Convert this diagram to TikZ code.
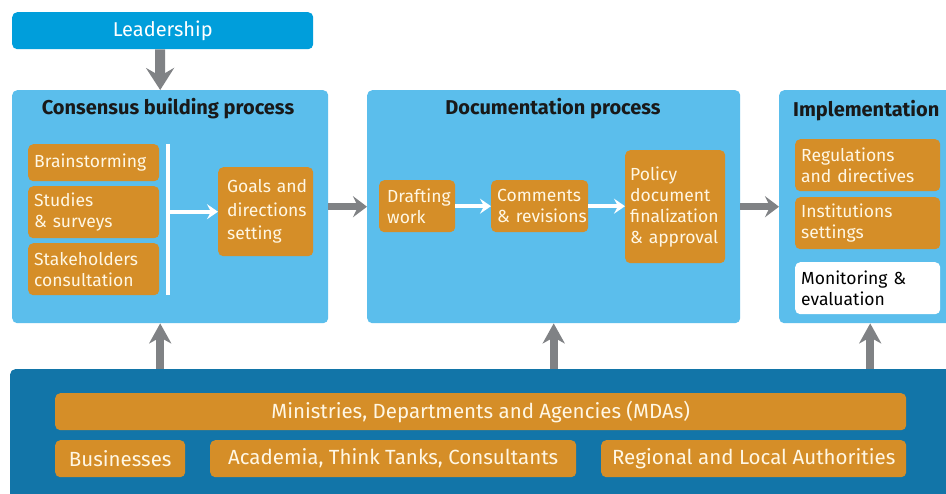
\documentclass[tikz,border=0pt]{standalone}
\usepackage{fontspec}
\setmainfont{Fira Sans}
\usetikzlibrary{arrows.meta, positioning}
\definecolor{leadblue}{RGB}{0,158,219}
\definecolor{panelblue}{RGB}{91,190,236}
\definecolor{deepblue}{RGB}{18,117,168}
\definecolor{itemorange}{RGB}{213,142,40}
\definecolor{cream}{RGB}{255,247,228}
\definecolor{arrowgray}{RGB}{128,130,133}
\hyphenpenalty=10000
\exhyphenpenalty=10000
\tikzset{
    panel/.style = {fill=panelblue, rounded corners=5pt, anchor=north west, inner sep=0pt},
    paneltitle/.style = {anchor=base, font=\fontsize{20}{24}\selectfont\bfseries, text=black!90, inner sep=0pt},
    % boxes inside the panels
    item/.style = {fill=itemorange, rounded corners=5pt, anchor=north west, text=cream,
        align=left, inner xsep=6pt, inner ysep=3pt, font=\fontsize{17.5}{21}\selectfont},
    monitor/.style = {item, fill=white, text=black},
    actor/.style = {fill=itemorange, rounded corners=5pt, anchor=north west, text=cream,
        align=center, inner sep=0pt, font=\fontsize{20.5}{24}\selectfont},
    % connectors
    grayarrow/.style = {draw=arrowgray, line width=10pt, -{Stealth[length=22pt, width=28pt, inset=8pt]}},
    grayup/.style = {draw=arrowgray, line width=8pt, -{Stealth[length=20pt, width=22pt, inset=6pt]}},
    grayright/.style = {draw=arrowgray, line width=7pt, -{Stealth[length=14pt, width=21pt, inset=5pt]}},
    whitearrow/.style = {draw=white, line width=4pt, -{Stealth[length=11pt, width=15pt, inset=4pt]}}
}
\begin{document}
\begin{tikzpicture}[x=1pt, y=-1pt]
    \clip (0,0) rectangle (946,494);
    \fill[white] (0,0) rectangle (946,494);

    % leadership
    \node (leader) [fill=leadblue, rounded corners=5pt, anchor=north west, inner sep=0pt,
        minimum width=301pt, minimum height=37pt, text=white, font=\fontsize{20}{24}\selectfont]
        at (12,12) {Leadership};

    % the three panels
    \node (consensus) [panel, minimum width=316pt, minimum height=233pt] at (12,90) {};
    \node (docu) [panel, minimum width=373pt, minimum height=233pt] at (367,90) {};
    \node (implem) [panel, minimum width=182pt, minimum height=233pt] at (779,90) {};

    \node (consensustitle) [paneltitle] at (168,115) {Consensus building process};
    \node (docutitle) [paneltitle] at (553,115) {Documentation process};
    \node (implemtitle) [paneltitle, anchor=base west] at (793,117) {Implementation};

    % consensus building
    \node (brain) [item, text width=119pt, minimum height=37pt] at (28,144) {Brainstorming};
    \node (studies) [item, text width=119pt, minimum height=52pt] at (28,186) {Studies\\\&~surveys};
    \node (stake) [item, text width=119pt, minimum height=52pt] at (28,243) {Stakeholders\\consultation};
    \node (goals) [item, inner xsep=9pt, text width=77pt, minimum height=89pt, font=\fontsize{17.5}{23.5}\selectfont] at (218,167) {Goals~and\\directions\\setting};
    \coordinate (bartop) at (168,144);
    \coordinate (barbot) at (168,295);
    \draw[white, line width=4pt] (bartop) -- (barbot);
    \draw[whitearrow] (bartop |- goals.west) -- (goals.west);

    % documentation
    \node (draft) [item, inner xsep=8pt, text width=60pt, minimum height=52pt] at (379,180) {Drafting\\work};
    \node (comments) [item, text width=85pt, minimum height=52pt] at (491,180) {Comments\\\&~revisions};
    \node (policy) [item, inner xsep=5pt, text width=90pt, minimum height=113pt] at (625,150) {Policy\\document\\finalization\\\&~approval};
    \draw[whitearrow] (draft) -- (comments);
    \draw[whitearrow] (comments) -- (comments -| policy.west);

    % implementation
    \node (regul) [item, text width=133pt, minimum height=52pt] at (795,139) {Regulations\\and~directives};
    \node (instit) [item, text width=133pt, minimum height=52pt] at (795,197) {Institutions\\settings};
    \node (monit) [monitor, text width=133pt, minimum height=52pt] at (795,262) {Monitoring~\&\\evaluation};

    % actors
    \node (actors) [fill=deepblue, rounded corners=5pt, anchor=north west, inner sep=0pt,
        minimum width=960pt, minimum height=160pt] at (10,369) {};
    \node (mdas) [actor, minimum width=851pt, minimum height=37pt] at (55,393) {Ministries, Departments and Agencies (MDAs)};
    \node (business) [actor, minimum width=130pt, minimum height=37pt] at (55,440) {Businesses};
    \node (academia) [actor, minimum width=366pt, minimum height=37pt] at (210,440) {Academia, Think Tanks, Consultants};
    \node (regional) [actor, minimum width=305pt, minimum height=37pt] at (601,440) {Regional and Local Authorities};

    % connectors between blocks
    \draw[grayarrow] (leader.south -| 160,0) -- ([xshift=-10pt]consensus.north);
    \draw[grayright] (consensus) -- (docu);
    \draw[grayright] (docu) -- (implem.west);
    \draw[grayup] ([xshift=-10pt]consensus.south |- actors.north) -- ([xshift=-10pt]consensus.south);
    \draw[grayup] (docu.south |- actors.north) -- (docu.south);
    \draw[grayup] (implem.south |- actors.north) -- (implem.south);
\end{tikzpicture}
\end{document}
